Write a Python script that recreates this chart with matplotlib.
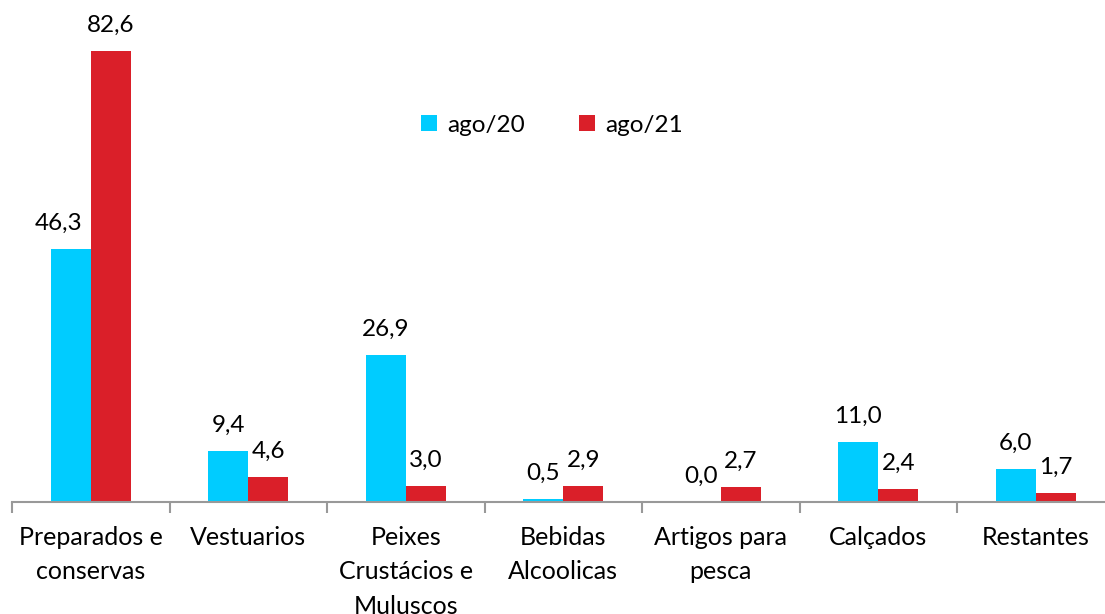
import matplotlib
matplotlib.use("Agg")
import matplotlib.pyplot as plt
import numpy as np

categories = ["Preparados e\nconservas", "Vestuarios", "Peixes\nCrustácios e\nMuluscos",
              "Bebidas\nAlcoolicas", "Artigos para\npesca", "Calçados", "Restantes"]
ago20 = [46.3, 9.4, 26.9, 0.5, 0.0, 11.0, 6.0]
ago21 = [82.6, 4.6, 3.0, 2.9, 2.7, 2.4, 1.7]
series_names = ["ago/20", "ago/21"]

plt.rcParams['font.family'] = ['Lato', 'DejaVu Sans']
W, H = 1105, 614
fig = plt.figure(figsize=(W/100, H/100), dpi=100)
left = 12/W
right = (12 + 7*157.5)/W
bottom = 1 - 502/H
top = 1 - 10/H
ax = fig.add_axes([left, bottom, right-left, top-bottom])

x = np.arange(len(categories))
bw = 0.254
c1, c2 = "#00CCFF", "#DA1F29"
b1 = ax.bar(x - bw/2, ago20, bw, color=c1, label=series_names[0])
b2 = ax.bar(x + bw/2, ago21, bw, color=c2, label=series_names[1])
for si, (bars, vals) in enumerate(((b1, ago20), (b2, ago21))):
    for ci, (r, v) in enumerate(zip(bars, vals)):
        dx = 0
        # Excel nudged the first cyan label left, away from the tall red bar
        if si == 0 and ci == 0:
            dx = -9
        ax.annotate(f"{v:.1f}".replace(".", ","), (r.get_x()+r.get_width()/2, r.get_height()),
                    xytext=(dx, 11), textcoords="offset points", ha="center", va="bottom",
                    fontsize=17.5, color="black")

ax.set_xlim(-0.5, len(categories)-0.5)
ax.set_ylim(0, 90.2)
for s in ["top", "right", "left"]:
    ax.spines[s].set_visible(False)
ax.spines["bottom"].set_color("#999999")
ax.spines["bottom"].set_linewidth(1.5)
ax.set_yticks([])
ax.set_xticks(np.arange(len(categories)+1) - 0.5)
ax.set_xticklabels([])
ax.tick_params(axis="x", length=8, width=1.5, color="#999999", direction="out")
ax.set_xticks(x, minor=True)
ax.set_xticklabels(categories, minor=True, fontsize=18, linespacing=1.62, va="top")
ax.tick_params(axis="x", which="minor", length=0, pad=17)

leg = ax.legend(loc="center", bbox_to_anchor=(552/W, 1-125/H), bbox_transform=fig.transFigure,
                ncol=2, frameon=False, fontsize=17.5, handlelength=0.66, handleheight=0.66,
                handletextpad=0.4, columnspacing=2.25)

fig.savefig("out.png", dpi=100)
